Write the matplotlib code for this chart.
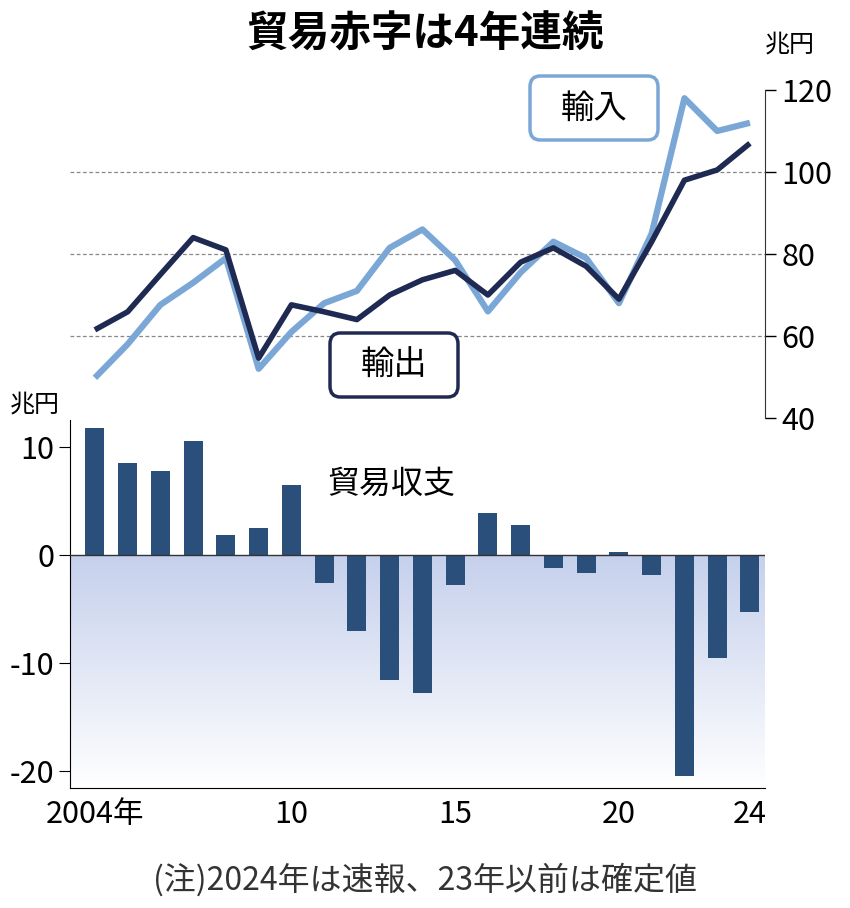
import matplotlib.pyplot as plt
import numpy as np
from matplotlib.patches import FancyBboxPatch

plt.rcParams['font.family'] = ['Noto Sans CJK JP', 'DejaVu Sans']

years = np.arange(2004, 2025)
exports = [61.5, 65.9, 75, 84, 81, 54.6, 67.6, 65.9, 64, 70, 73.7, 76, 70, 78, 81.5, 77, 69, 83, 98, 100.5, 107]
imports = [49.8, 58, 67.6, 73, 79, 52, 61, 68, 71, 81.5, 86, 78.5, 66, 75.5, 83, 79, 68, 85, 118, 110, 112]
balance = [11.8, 8.5, 7.8, 10.6, 1.9, 2.5, 6.5, -2.6, -7, -11.6, -12.8, -2.8, 3.9, 2.8, -1.2, -1.7, 0.3, -1.8, -20.4, -9.5, -5.3]

dark = "#1f2a52"
light = "#7ba7d6"
bar_c = "#2a4f7a"
xlim = (2003.24, 2024.46)

fig = plt.figure(figsize=(8.5, 9.08), dpi=100)
W, H = 850, 908

def rect(l, t, r, b):
    return [l / W, 1 - b / H, (r - l) / W, (b - t) / H]

# top: exports / imports
ax1 = fig.add_axes(rect(70, 90, 765, 418))
ax1.set_xlim(*xlim)
ax1.set_ylim(40, 120)
for v in (60, 80, 100):
    ax1.axhline(v, color="#888888", ls=(0, (3, 2)), lw=0.9, zorder=0)
ax1.plot(years, imports, color=light, lw=4.5, clip_on=False, solid_capstyle="butt")
ax1.plot(years, exports, color=dark, lw=4, clip_on=False, solid_capstyle="butt")
for s in ("left", "top", "bottom"):
    ax1.spines[s].set_visible(False)
ax1.spines["right"].set_color("#333333")
ax1.yaxis.tick_right()
ax1.set_yticks([40, 60, 80, 100, 120])
ax1.tick_params(axis="y", labelsize=22, length=8, width=1, direction="out", pad=4)
ax1.set_xticks([])
ax1.patch.set_alpha(0)
fig.text(790 / W, 1 - 45 / H, "兆円", fontsize=18, ha="center", va="center")

def label_box(x, y, w, h, text, ec):
    p = FancyBboxPatch(((x) / W, 1 - (y + h) / H), w / W, h / H,
                       boxstyle="round,pad=0,rounding_size=0.012",
                       transform=fig.transFigure, fc="white", ec=ec, lw=2.5)
    fig.patches.append(p)
    fig.text((x + w / 2) / W, 1 - (y + h / 2) / H, text, fontsize=24,
             ha="center", va="center")

label_box(530, 76, 128, 64, "輸入", light)
label_box(330, 333, 128, 64, "輸出", dark)

# bottom: balance
ax2 = fig.add_axes(rect(70, 420, 765, 788))
grad = np.linspace(0, 1, 256).reshape(-1, 1)
ax2.imshow(grad, cmap=plt.matplotlib.colors.LinearSegmentedColormap.from_list(
    "g", ["#c5d0ec", "#ffffff"]), extent=[xlim[0], xlim[1], 0, -21.55],
    aspect="auto", origin="lower", zorder=0)
ax2.set_xlim(*xlim)
ax2.set_ylim(-21.55, 12.5)
ax2.bar(years, balance, width=0.58, color=bar_c, zorder=2)
ax2.axhline(0, color="#333333", lw=1, zorder=3)
ax2.spines["top"].set_visible(False)
ax2.spines["right"].set_visible(False)
ax2.set_yticks([-20, -10, 0, 10])
ax2.set_yticklabels(["-20", "-10", "0", "10"])
ax2.tick_params(axis="y", labelsize=22, length=8, direction="out")
ax2.set_xticks([2004, 2010, 2015, 2020, 2024])
ax2.set_xticklabels(["2004年", "10", "15", "20", "24"])
ax2.tick_params(axis="x", labelsize=22, length=0, pad=8)
ax2.text(2011.1, 6.6, "貿易収支", fontsize=23, ha="left", va="center")
fig.text(35 / W, 1 - 405 / H, "兆円", fontsize=18, ha="center", va="center")

fig.text(425 / W, 1 - 35 / H, "貿易赤字は4年連続", fontsize=30, fontweight="bold",
         ha="center", va="center")
fig.text(425 / W, 1 - 880 / H, "(注)2024年は速報、23年以前は確定値", fontsize=23,
         ha="center", va="center", color="#333333")

fig.savefig("out.png", dpi=100)
